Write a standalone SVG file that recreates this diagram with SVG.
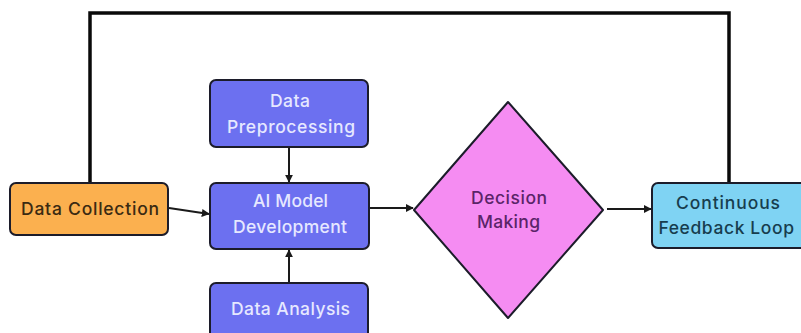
<svg xmlns="http://www.w3.org/2000/svg" width="801" height="333" viewBox="0 0 801 333">
<style>
  .box { stroke: #1c1c2a; stroke-width: 2; }
  .orange { fill: #FBB04F; }
  .blue { fill: #6C70F0; }
  .pink { fill: #F58CF2; }
  .cyan { fill: #7FD3F3; }
  text { font-family: Inter, "Noto Sans", "Liberation Sans", sans-serif; font-size: 17.5px; font-weight: 500; text-anchor: middle; dominant-baseline: central; }
  .tdark { fill: #3a2a12; }
  .tlight { fill: #E6E8FF; }
  .tpurple { fill: #5a2468; }
  .tteal { fill: #173d4e; }
  .wide { letter-spacing: 0.6px; }
  .conn { fill: none; stroke: #1a1a1a; stroke-width: 2; }
  .loop { fill: none; stroke: #0a0a0a; stroke-width: 3.5; }
</style>
<defs>
  <marker id="arr" viewBox="0 0 10 10" refX="9" refY="5" markerWidth="8" markerHeight="8" markerUnits="userSpaceOnUse" orient="auto">
    <path d="M0,0 L10,5 L0,10 z" fill="#1a1a1a"/>
  </marker>
</defs>
<rect width="801" height="333" fill="#ffffff"/>
<g id="connectors">
  <path class="loop" d="M90,183 V13 H729 V183"/>
  <path class="conn" d="M169,208 L209,214" marker-end="url(#arr)"/>
  <path class="conn" d="M289,147 V182" marker-end="url(#arr)"/>
  <path class="conn" d="M289,283 V250" marker-end="url(#arr)"/>
  <path class="conn" d="M370,208 H413" marker-end="url(#arr)"/>
  <path class="conn" d="M607,209 H651" marker-end="url(#arr)"/>
</g>
<g id="data-collection">
  <rect class="box orange" x="10" y="183" width="158" height="52" rx="6"/>
  <text class="tdark" x="90" y="208" textLength="138" lengthAdjust="spacing">Data Collection</text>
</g>
<g id="data-preprocessing">
  <rect class="box blue" x="210" y="80" width="158" height="67" rx="6"/>
  <text class="tlight" x="290" y="100" textLength="40" lengthAdjust="spacing">Data</text>
  <text class="tlight" x="291" y="126" textLength="128" lengthAdjust="spacing">Preprocessing</text>
</g>
<g id="ai-model-development">
  <rect class="box blue" x="210" y="183" width="159" height="66" rx="6"/>
  <text class="tlight" x="290.5" y="200" textLength="75" lengthAdjust="spacing">AI Model</text>
  <text class="tlight" x="290" y="226" textLength="114" lengthAdjust="spacing">Development</text>
</g>
<g id="data-analysis">
  <rect class="box blue" x="210" y="283" width="158" height="60" rx="6"/>
  <text class="tlight" x="290.5" y="308" textLength="119" lengthAdjust="spacing">Data Analysis</text>
</g>
<g id="decision-making">
  <path class="box pink" d="M508,102 L603,210 L508,318 L414,210 Z" stroke-linejoin="round"/>
  <text class="tpurple" x="509" y="197" textLength="76" lengthAdjust="spacing">Decision</text>
  <text class="tpurple" x="508.5" y="221" textLength="63" lengthAdjust="spacing">Making</text>
</g>
<g id="continuous-feedback-loop">
  <rect class="box cyan" x="652" y="183" width="158" height="65" rx="6"/>
  <text class="tteal" x="728" y="202" textLength="104" lengthAdjust="spacing">Continuous</text>
  <text class="tteal wide" x="726.5" y="227">Feedback Loop</text>
</g>
</svg>
